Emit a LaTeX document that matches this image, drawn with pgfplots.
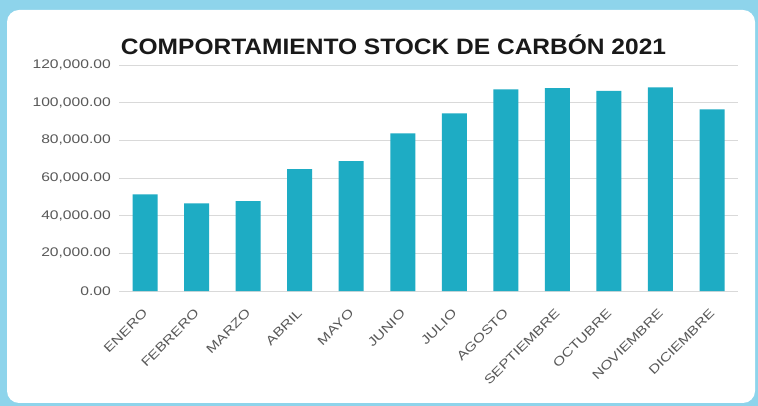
\documentclass[border=0pt]{standalone}
\usepackage{pgfplots}
\pgfplotsset{compat=1.18}
\usepackage{fontspec}
\setmainfont{Liberation Sans}
\newfontfamily\tickfont[FakeStretch=1.25]{Liberation Sans}
\newfontfamily\titlefont[FakeStretch=1.1]{Liberation Sans}
\definecolor{bgblue}{RGB}{142,212,235}
\definecolor{barteal}{RGB}{30,172,196}
\definecolor{gridgrey}{RGB}{217,217,217}
\definecolor{ticktext}{RGB}{89,89,89}
\begin{document}
\begin{tikzpicture}
\useasboundingbox (0bp,0bp) rectangle (758bp,406bp);
\fill[bgblue] (0bp,0bp) rectangle (758bp,406bp);
\fill[white, rounded corners=12bp] (7bp,3bp) rectangle (755bp,396bp);
\node[font=\titlefont\bfseries\fontsize{22.3bp}{24bp}\selectfont, text=black!90] at (393.5bp,361bp) {COMPORTAMIENTO STOCK DE CARBÓN 2021};
\begin{axis}[
  at={(119.3bp,115bp)}, anchor=south west,
  scale only axis, width=618.5bp, height=226bp,
  xmin=-0.5, xmax=11.5, ymin=0, ymax=120000,
  ybar, bar width=25bp,
  axis line style={draw=none},
  tick style={draw=none},
  scaled y ticks=false,
  ymajorgrids, grid style={gridgrey, line width=0.8bp},
  ytick={0,20000,40000,60000,80000,100000,120000},
  yticklabels={{0.00},{20,000.00},{40,000.00},{60,000.00},{80,000.00},{100,000.00},{120,000.00}},
  yticklabel style={font=\tickfont\fontsize{12.5bp}{14bp}\selectfont, text=ticktext, xshift=-5bp},
  xtick=data,
  xticklabels={ENERO,FEBRERO,MARZO,ABRIL,MAYO,JUNIO,JULIO,AGOSTO,SEPTIEMBRE,OCTUBRE,NOVIEMBRE,DICIEMBRE},
  xticklabel style={font=\tickfont\fontsize{12.5bp}{14bp}\selectfont, text=ticktext, xshift=-3bp, yshift=-8bp, rotate=45, anchor=north east},
  clip=false,
]
\addplot[fill=barteal, draw=none] coordinates {
(0,51300) (1,46500) (2,47700) (3,64700) (4,69000) (5,83700)
(6,94300) (7,107000) (8,107700) (9,106300) (10,108100) (11,96400)
};
\end{axis}
\end{tikzpicture}
\end{document}
